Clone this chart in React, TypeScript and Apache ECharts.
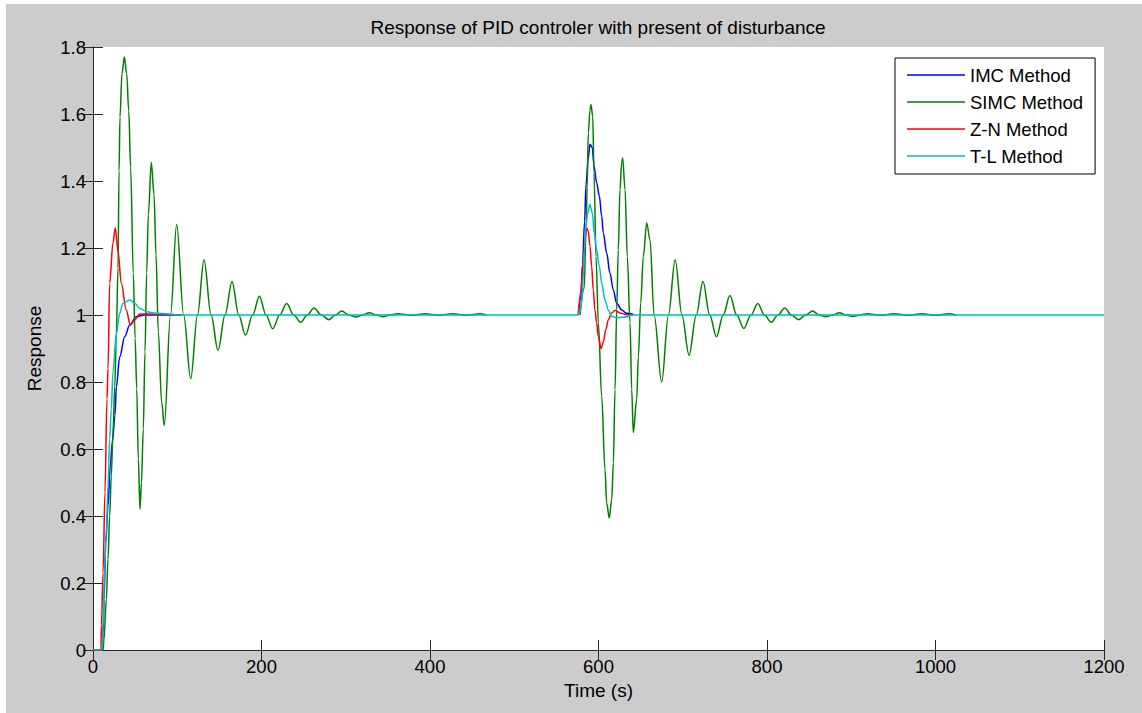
import React, { useEffect, useRef } from "react";
import * as echarts from "echarts";

// ---- data: [time (s), response] ----
const seriesNames = ["IMC Method", "SIMC Method", "Z-N Method", "T-L Method"];
const seriesColors = ["#0000ff", "#008000", "#ff0000", "#00bfbf"];

const imcData: (number | null)[][] = [
  [0, 0], [11, 0], [11.9, 0.05], [13.1, 0.15], [15.1, 0.32], [17.8, 0.43], [20.5, 0.55],
  [22.9, 0.62], [26.1, 0.7], [27.7, 0.785], [31.7, 0.875], [37.6, 0.935], [43.6, 0.97],
  [51.4, 0.995], [61.4, 1.0], [105, 1.0],
  [340, null],
  [576, 1.0], [579, 1.05], [581, 1.15], [583.5, 1.28], [585.2, 1.39], [587.9, 1.47],
  [589.9, 1.51], [592.6, 1.5], [594.7, 1.445], [597.8, 1.395], [601, 1.355], [603.8, 1.295],
  [605.7, 1.245], [609.7, 1.185], [613.6, 1.125], [617.6, 1.075], [621.6, 1.035],
  [627.5, 1.015], [633.4, 1.005], [641.3, 1.002],
];

const simcData: (number | null)[][] = [
  [0, 0], [12, 0], [13, 0.03], [15.8, 0.15], [17.8, 0.27], [19.8, 0.4], [21.7, 0.52],
  [23.7, 0.65], [25.8, 0.785], [27.7, 0.945], [29.7, 1.14], [30.9, 1.43], [32, 1.59],
  [34.4, 1.72], [37.2, 1.77], [40, 1.72], [42.4, 1.61], [44.7, 1.44], [47.8, 1.125],
  [50, 0.93], [51.9, 0.78], [53.8, 0.57], [55.8, 0.42], [57.5, 0.5], [59.7, 0.66],
  [61.7, 0.89], [63.7, 1.125], [65.7, 1.3], [69.2, 1.455], [72.4, 1.36], [74.8, 1.18],
  [77.5, 0.95], [81.5, 0.74], [84.6, 0.67], [92, 1.0], [99.3, 1.27], [107.6, 1.0],
  [116, 0.81], [124, 1.0], [131.8, 1.165], [140.1, 1.0], [148.4, 0.895], [156.7, 1.0],
  [165, 1.1], [173, 1.0], [181, 0.94], [189.5, 1.0], [197.5, 1.056], [205.4, 1.0],
  [213.3, 0.959], [221.6, 1.0], [229.9, 1.034], [238.2, 1.0], [246.5, 0.978], [254.4, 1.0],
  [262.3, 1.021], [271.1, 1.0], [280, 0.986], [287.6, 1.0], [295.2, 1.012], [303.7, 1.0],
  [312.2, 0.994], [320, 1.0], [328, 1.007], [336, 1.0], [344.6, 0.995], [353, 1.0],
  [362, 1.004], [378, 0.999], [394, 1.004], [410, 0.999], [427, 1.004], [443, 0.999],
  [460, 1.004], [466, 1.0],
  [520, null],
  [578, 1.0], [583, 1.08], [585.2, 1.25], [586.5, 1.38], [587.9, 1.544], [589.9, 1.613],
  [591.1, 1.628], [593.1, 1.593], [594.7, 1.425], [597, 1.175], [599.8, 0.977],
  [603.8, 0.757], [607.7, 0.538], [609.7, 0.439], [612.8, 0.394], [615.7, 0.449],
  [617.6, 0.558], [619.6, 0.777], [621.6, 1.016], [623.5, 1.195], [625.5, 1.374],
  [627.5, 1.455], [628.7, 1.469], [631.5, 1.374], [634.2, 1.175], [637.4, 0.977],
  [639.4, 0.777], [641.3, 0.649], [645.3, 0.747], [647.3, 0.876], [650.1, 1.036],
  [653.2, 1.175], [657.2, 1.275], [661.1, 1.225], [666, 1.0], [675, 0.8], [683, 1.0],
  [691, 1.165], [699, 1.0], [707.5, 0.88], [716, 1.0], [724, 1.1], [732, 1.0],
  [740, 0.935], [748, 1.0], [756, 1.058], [764, 1.0], [772.5, 0.96], [781, 1.0],
  [789, 1.034], [797, 1.0], [805, 0.978], [813, 1.0], [821, 1.021], [829, 1.0],
  [837.5, 0.986], [846, 1.0], [854, 1.012], [862, 1.0], [870, 0.995], [878, 1.0],
  [886, 1.007], [894, 1.0], [902, 0.996], [910, 1.0], [919, 1.004], [935, 0.999],
  [951, 1.004], [967, 0.999], [984, 1.004], [1000, 0.999], [1016, 1.004], [1024, 1.0],
];

const znData: (number | null)[][] = [
  [0, 0], [9.5, 0], [10, 0.075], [11.9, 0.23], [14.2, 0.47], [16.6, 0.75], [17.8, 0.84],
  [19.8, 1.095], [23.7, 1.215], [26.5, 1.26], [29.7, 1.19], [33.6, 1.095], [39.5, 1.015],
  [44.3, 0.97], [49.5, 0.985], [55.4, 1.003], [61.4, 1.003], [105, 1.0],
  [340, null],
  [576, 1.0], [579, 1.07], [582, 1.17], [585.9, 1.26], [587.8, 1.25], [589.9, 1.205],
  [591.9, 1.145], [593.8, 1.075], [595.8, 1.015], [597.8, 0.977], [599.7, 0.936],
  [603, 0.9], [605.8, 0.92], [608.6, 0.956], [611.7, 0.986], [615.7, 1.006],
  [619.6, 1.014], [625.5, 1.006], [633.4, 1.001], [641.3, 1.0],
];

const tlData: (number | null)[][] = [
  [0, 0], [10.7, 0], [11.9, 0.06], [13.9, 0.25], [15.8, 0.35], [17.8, 0.49], [19.8, 0.63],
  [21.7, 0.72], [23.7, 0.83], [27.7, 0.945], [31.7, 1.005], [35.6, 1.035], [43.6, 1.045],
  [49.5, 1.035], [55.4, 1.02], [63.3, 1.01], [75.1, 1.005], [106.8, 1.0], [575.7, 1.0],
  [578, 1.01], [580, 1.036], [582, 1.115], [583.1, 1.195], [584.8, 1.255], [587.2, 1.305],
  [589.9, 1.33], [592.6, 1.305], [595, 1.245], [597.8, 1.195], [601, 1.145], [603.8, 1.095],
  [607.7, 1.045], [611.6, 1.015], [615.7, 0.996], [621.6, 0.992], [629.4, 0.993],
  [641, 1.0], [1200, 1.0],
];

const allData = [imcData, simcData, znData, tlData];

const xMin = 0, xMax = 1200, xStep = 200;
const yMin = 0, yMax = 1.8, yStep = 0.2;

const FONT = "'Liberation Sans', Arial, Helvetica, sans-serif";
const AXIS = "#262626";

export default function App() {
  const ref = useRef<HTMLDivElement>(null);

  useEffect(() => {
    document.body.style.margin = "0";
    const chart = echarts.init(ref.current!, undefined, { renderer: "svg" });
    const axisCommon = {
      type: "value" as const,
      axisLine: { show: true, lineStyle: { color: AXIS, width: 1 } },
      axisTick: { show: true, inside: true, length: 10, lineStyle: { color: AXIS, width: 1 } },
      splitLine: { show: false },
    };
    const labelStyle = { color: "#000", fontSize: 18.5, fontFamily: FONT, margin: 7 };
    chart.setOption({
      animation: false,
      backgroundColor: "#cccccc",
      title: {
        text: "Response of PID controler with present of disturbance",
        left: 587,
        top: 9,
        textAlign: "center",
        textStyle: { color: "#000", fontSize: 19, fontWeight: "normal", fontFamily: FONT },
      },
      grid: {
        left: 87, top: 43, right: 38, bottom: 63,
        show: true, backgroundColor: "#ffffff", borderWidth: 0,
      },
      legend: {
        orient: "vertical",
        left: 889, top: 54,
        data: seriesNames,
        icon: "rect",
        backgroundColor: "#ffffff",
        borderColor: "#000",
        borderWidth: 1,
        borderRadius: 0,
        padding: [7, 12, 8, 12],
        itemWidth: 58,
        itemHeight: 1.6,
        itemGap: 7,
        textStyle: { color: "#000", fontSize: 18.5, fontFamily: FONT, lineHeight: 20 },
      },
      xAxis: [
        {
          ...axisCommon, min: xMin, max: xMax, interval: xStep, position: "bottom",
          axisLabel: { ...labelStyle, formatter: (v: number) => String(v) },
          name: "Time (s)", nameLocation: "middle", nameGap: 30,
          nameTextStyle: { color: "#000", fontSize: 19, fontFamily: FONT },
        },
        { ...axisCommon, min: xMin, max: xMax, interval: xStep, position: "top", axisLabel: { show: false } },
      ],
      yAxis: [
        {
          ...axisCommon, min: yMin, max: yMax, interval: yStep, position: "left",
          axisLabel: { ...labelStyle, formatter: (v: number) => String(Number(v.toFixed(1))) },
          name: "Response", nameLocation: "middle", nameGap: 49, nameRotate: 90,
          nameTextStyle: { color: "#000", fontSize: 19, fontFamily: FONT },
        },
        { ...axisCommon, min: yMin, max: yMax, interval: yStep, position: "right", axisLabel: { show: false } },
      ],
      series: seriesNames.map((name, i) => ({
        name,
        type: "line",
        xAxisIndex: 0,
        yAxisIndex: 0,
        data: allData[i],
        showSymbol: false,
        symbol: "none",
        smooth: 0.35,
        smoothMonotone: "x",
        connectNulls: false,
        color: seriesColors[i],
        lineStyle: { color: seriesColors[i], width: 1.5 },
      })),
    });
    return () => chart.dispose();
  }, []);

  return (
    <div style={{ position: "fixed", left: 0, top: 0, width: 1142, height: 713, background: "#ffffff" }}>
      <div ref={ref} style={{ position: "absolute", left: 6, top: 4, width: 1136, height: 709 }} />
    </div>
  );
}
